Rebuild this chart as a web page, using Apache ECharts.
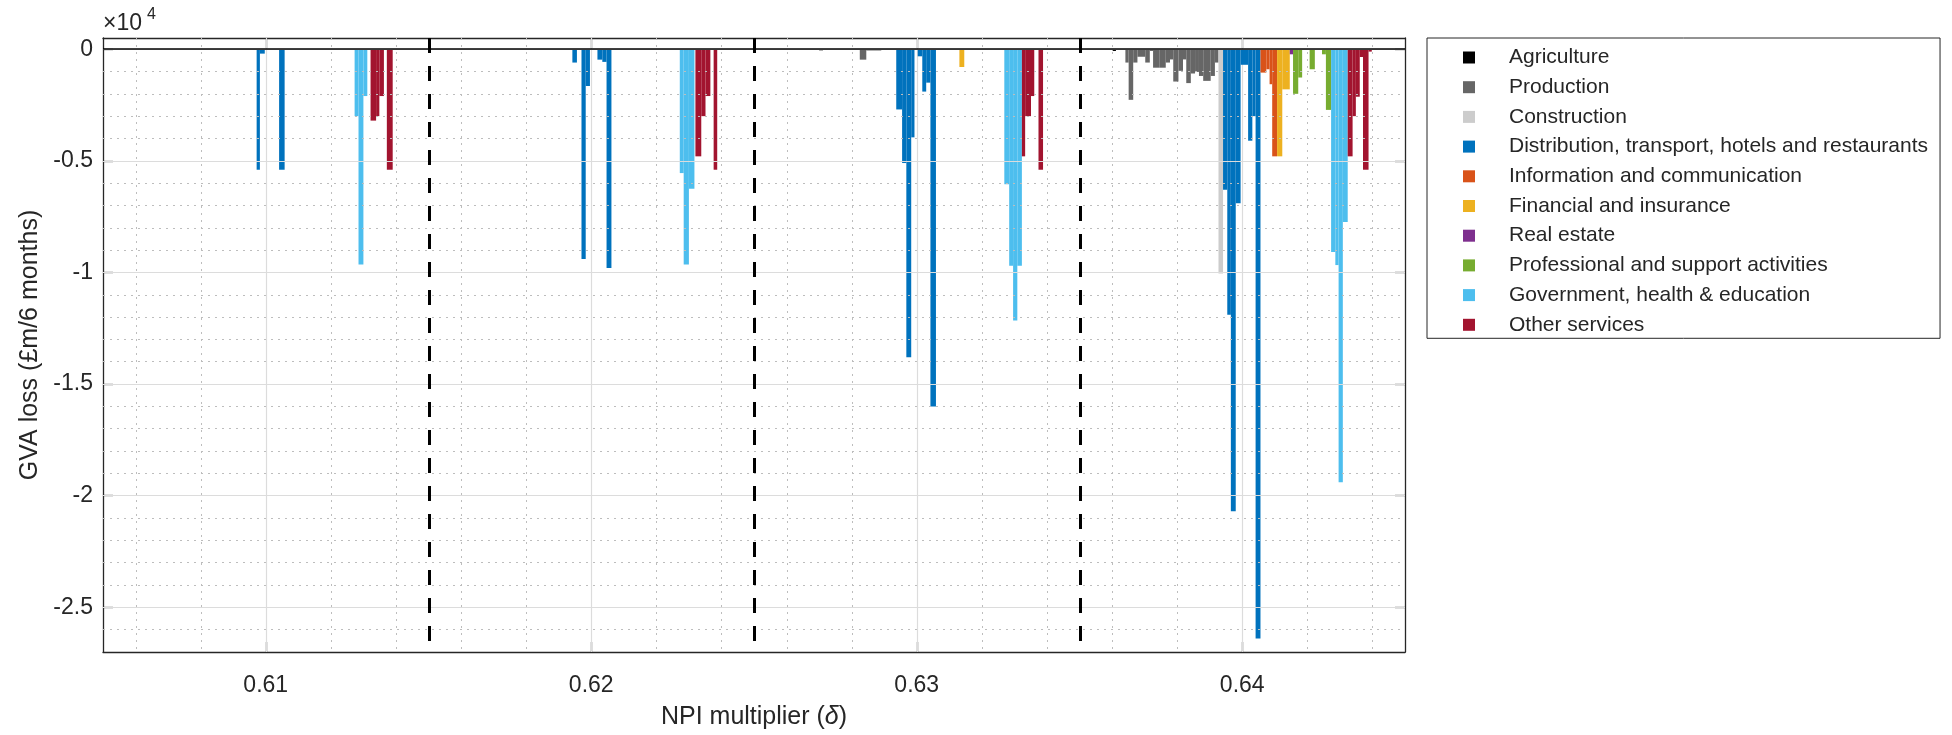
<!DOCTYPE html>
<html><head><meta charset="utf-8">
<script src="https://cdn.jsdelivr.net/npm/echarts@6/dist/echarts.min.js"></script>
<style>html,body{margin:0;padding:0;background:#fff}#c{width:1952px;height:735px}</style>
</head><body><div id="c"></div>
<script>
// ---------- DATA ----------
const sectorNames = ['Agriculture','Production','Construction','Distribution, transport, hotels and restaurants','Information and communication','Financial and insurance','Real estate','Professional and support activities','Government, health & education','Other services'];
const sectorColors = ['#000000','#666666','#cccccc','#0072bd','#d95319','#edb120','#7e2f8e','#77ac30','#4dbeee','#a2142f'];

// each bar: [x from, x to, GVA loss]
const agriculture = [[0.63602,0.63612,-80]];
const production = [
  [0.62700,0.62712,-60],[0.62825,0.62845,-470],[0.62845,0.62891,-60],
  [0.63641,0.63651,-600],[0.63651,0.63665,-2270],[0.63665,0.63678,-600],[0.63678,0.63702,-340],
  [0.63702,0.63716,-600],[0.63716,0.63726,-80],[0.63726,0.63745,-830],[0.63745,0.63765,-830],
  [0.63765,0.63778,-600],[0.63778,0.63788,-460],[0.63788,0.63804,-1450],[0.63804,0.63818,-970],
  [0.63818,0.63828,-460],[0.63828,0.63842,-1520],[0.63842,0.63855,-1090],[0.63855,0.63867,-1020],
  [0.63867,0.63880,-1200],[0.63880,0.63903,-1420],[0.63903,0.63916,-1200],[0.63916,0.63927,-600]
];
const construction = [[0.63927,0.63941,-10050]];
const distribution = [
  [0.60972,0.60982,-5400],[0.60982,0.60997,-200],[0.61041,0.61058,-5400],
  [0.61942,0.61956,-600],[0.61970,0.61983,-9400],[0.61983,0.61996,-1650],[0.62019,0.62034,-470],[0.62034,0.62047,-570],[0.62047,0.62062,-9800],
  [0.62937,0.62955,-2700],[0.62955,0.62968,-5100],[0.62968,0.62983,-13800],[0.62983,0.62993,-3950],
  [0.63003,0.63017,-320],[0.63017,0.63029,-1900],[0.63029,0.63042,-1500],[0.63042,0.63059,-16000],
  [0.63941,0.63954,-6300],[0.63954,0.63965,-11900],[0.63965,0.63980,-20700],[0.63980,0.63995,-6900],
  [0.63995,0.64018,-700],[0.64018,0.64031,-4100],[0.64031,0.64041,-3000],[0.64041,0.64056,-26400]
];
const information = [[0.64056,0.64074,-1050],[0.64074,0.64084,-900],[0.64084,0.64092,-1570],[0.64092,0.64107,-4800]];
const financial = [[0.63131,0.63146,-800],[0.64107,0.64123,-4800],[0.64123,0.64146,-1800]];
const realEstate = [[0.64146,0.64156,-230]];
const professional = [[0.64156,0.64172,-2000],[0.64172,0.64184,-1270],[0.64207,0.64223,-900],[0.64245,0.64257,-230],[0.64257,0.64273,-2720]];
const government = [
  [0.61273,0.61285,-3000],[0.61285,0.61300,-9650],[0.61300,0.61312,-2100],
  [0.62272,0.62284,-5550],[0.62284,0.62300,-9650],[0.62300,0.62317,-6250],
  [0.63269,0.63284,-6050],[0.63284,0.63296,-9700],[0.63296,0.63309,-12150],[0.63309,0.63323,-9700],
  [0.64273,0.64286,-9080],[0.64286,0.64296,-9670],[0.64296,0.64309,-19400],[0.64309,0.64324,-7740]
];
const otherServices = [
  [0.61322,0.61339,-3200],[0.61339,0.61349,-3000],[0.61349,0.61363,-2100],[0.61372,0.61390,-5400],
  [0.62320,0.62338,-4800],[0.62338,0.62351,-3000],[0.62351,0.62366,-2100],[0.62376,0.62387,-5400],
  [0.63323,0.63333,-4800],[0.63333,0.63351,-3000],[0.63351,0.63361,-2100],[0.63374,0.63388,-5400],
  [0.64324,0.64339,-4800],[0.64339,0.64349,-3000],[0.64349,0.64361,-2130],[0.64361,0.64371,-350],[0.64371,0.64388,-5400],[0.64388,0.64398,-110]
];
const sectorData = [agriculture,production,construction,distribution,information,financial,realEstate,professional,government,otherServices];

const xMajorTicks = [0.61, 0.62, 0.63, 0.64];
const xMinorGrid = [0.606,0.608,0.612,0.614,0.616,0.618,0.622,0.624,0.626,0.628,0.632,0.634,0.636,0.638,0.642,0.644];
const yMajorTicks = [0, -5000, -10000, -15000, -20000, -25000];
const yMinorGrid = [-1000,-2000,-3000,-4000,-6000,-7000,-8000,-9000,-11000,-12000,-13000,-14000,-16000,-17000,-18000,-19000,-21000,-22000,-23000,-24000,-26000];
const dividerX = [0.615, 0.625, 0.635];

// ---------- CHART ----------
const FONT = 'Liberation Sans, Arial, Helvetica, sans-serif';
const TXT = '#262626';
const chart = echarts.init(document.getElementById('c'), null, {renderer: 'canvas'});

function renderBar(params, api) {
  const a = api.coord([api.value(0), 0]);
  const b = api.coord([api.value(1), api.value(2)]);
  const cs = params.coordSys;
  const r = echarts.graphic.clipRectByRect(
    {x: a[0], y: a[1], width: b[0] - a[0], height: b[1] - a[1]},
    {x: cs.x, y: cs.y, width: cs.width, height: cs.height});
  return r && {type: 'rect', shape: r, style: {fill: api.visual('color')}};
}

// vertical full-height line at an x value
function vLine(style) {
  return function (params, api) {
    const cs = params.coordSys;
    const p = api.coord([api.value(0), 0]);
    const x = Math.round(p[0]) + 0.5;
    return {type: 'line', shape: {x1: x, y1: cs.y, x2: x, y2: cs.y + cs.height}, style: style, silent: true};
  };
}

const barSeries = sectorNames.map((n, i) => ({
  type: 'custom', name: n, data: sectorData[i], renderItem: renderBar,
  encode: {x: [0, 1], y: 2}, itemStyle: {color: sectorColors[i]}, z: 3, silent: true
}));

const axisCommon = {
  type: 'value', min: 0.605, max: 0.645, interval: 0.005,
  axisLine: {show: true, onZero: false, lineStyle: {color: TXT, width: 1.3}},
  axisTick: {show: true, inside: true, length: 10, customValues: xMajorTicks, lineStyle: {color: TXT, width: 1.3}},
  splitLine: {show: false}
};
const yCommon = {
  type: 'value', min: -27000, max: 500, interval: 1000,
  axisLine: {show: true, onZero: false, lineStyle: {color: TXT, width: 1.3}},
  axisTick: {show: true, inside: true, length: 10, customValues: yMajorTicks, lineStyle: {color: TXT, width: 1.3}},
  splitLine: {show: false}
};

const option = {
  animation: false,
  backgroundColor: '#fff',
  textStyle: {fontFamily: FONT},
  grid: {left: 103, right: 547, top: 38, bottom: 81, containLabel: false},
  xAxis: [
    Object.assign({}, axisCommon, {
      position: 'bottom',
      axisLabel: {customValues: xMajorTicks, margin: 22, fontSize: 23, color: TXT, fontFamily: FONT,
        formatter: v => v.toFixed(2)},
      name: 'NPI multiplier ({i|δ})', nameLocation: 'middle', nameGap: 53,
      nameTextStyle: {fontSize: 25, color: TXT, fontFamily: FONT, rich: {i: {fontSize: 25, fontStyle: 'italic', color: TXT, fontFamily: FONT}}}
    }),
    Object.assign({}, axisCommon, {position: 'top', axisLabel: {show: false}})
  ],
  yAxis: [
    Object.assign({}, yCommon, {
      position: 'left',
      axisLabel: {customValues: yMajorTicks, margin: 10, fontSize: 23, color: TXT, fontFamily: FONT,
        formatter: v => (v === 0 ? '0' : String(v / 10000))},
      name: 'GVA loss (£m/6 months)', nameLocation: 'middle', nameGap: 55, nameRotate: 90,
      nameTextStyle: {fontSize: 25, color: TXT, fontFamily: FONT}
    }),
    Object.assign({}, yCommon, {position: 'right', axisLabel: {show: false}})
  ],
  legend: {
    data: sectorNames, orient: 'vertical', left: 1427, top: 38,
    icon: 'rect', itemWidth: 12, itemHeight: 12, itemGap: 7.7,
    padding: [8.5, 12, 2.5, 36],
    borderColor: '#262626', borderWidth: 1, backgroundColor: '#fff',
    selectedMode: false,
    textStyle: {fontSize: 21, color: TXT, fontFamily: FONT, lineHeight: 22, padding: [0, 0, 0, 29]}
  },
  graphic: [
    {type: 'text', left: 103, top: 12, style: {text: '×10', fontSize: 23, fill: TXT, fontFamily: FONT}},
    {type: 'text', left: 147, top: 7, style: {text: '4', fontSize: 16, fill: TXT, fontFamily: FONT}}
  ],
  series: [
    {
      type: 'line', name: 'hgrid', data: [], z: 1, silent: true,
      markLine: {
        silent: true, symbol: 'none', label: {show: false}, animation: false,
        data: [].concat(
          yMinorGrid.map(v => ({yAxis: v, lineStyle: {color: '#bdbdbd', width: 1, type: [2, 5]}})),
          yMajorTicks.map(v => ({yAxis: v, lineStyle: {color: '#dcdcdc', width: 1.2, type: 'solid'}}))
        )
      }
    },
    {
      type: 'custom', name: 'xMinorGrid', data: xMinorGrid.map(v => [v]), encode: {x: 0}, z: 1, silent: true,
      renderItem: vLine({stroke: '#bdbdbd', lineWidth: 1, lineDash: [2, 5]})
    },
    {
      type: 'custom', name: 'xMajorGrid', data: xMajorTicks.map(v => [v]), encode: {x: 0}, z: 1, silent: true,
      renderItem: vLine({stroke: '#dcdcdc', lineWidth: 1.2})
    },
    ...barSeries,
    {
      type: 'custom', name: 'dividers', data: dividerX.map(v => [v]), encode: {x: 0}, z: 5, silent: true,
      renderItem: vLine({stroke: '#000', lineWidth: 3, lineDash: [15, 13]})
    },
    {
      type: 'line', name: 'zeroLine', data: [], z: 5, silent: true,
      markLine: {
        silent: true, symbol: 'none', label: {show: false}, animation: false,
        data: [{yAxis: 0, lineStyle: {color: '#000', width: 1.6, type: 'solid'}}]
      }
    }
  ]
};
chart.setOption(option);
</script>
</body></html>
